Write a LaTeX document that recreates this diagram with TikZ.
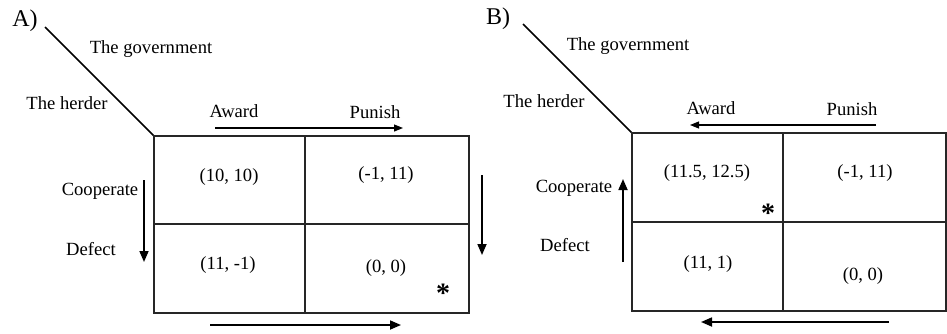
\documentclass[tikz,border=0pt]{standalone}
\usepackage{fontspec}
\setmainfont{Liberation Serif}
\usetikzlibrary{arrows.meta}
\begin{document}
\begin{tikzpicture}[x=1pt,y=-1pt,
  lbl/.style={inner sep=0pt,anchor=center,font=\fontsize{18.6}{20}\selectfont},
  panel/.style={inner sep=0pt,anchor=center,font=\fontsize{24}{26}\selectfont},
  grid/.style={line width=1.8pt,black!85},
  diag/.style={line width=1.5pt},
  thinarrow/.style={line width=1.1pt,-{Triangle[length=9pt,width=7pt]}},
  thickarrow/.style={line width=1.7pt,-{Triangle[length=11pt,width=9pt]}},
  star/.style={inner sep=0pt,font=\fontsize{28}{30}\selectfont\bfseries}]
\useasboundingbox (0,0) rectangle (947,333);
\fill[white] (0,0) rectangle (947,333);

% ---------- Panel A ----------
\node[panel] (pA) at (25,21) {A)};
\coordinate (dA0) at (45,27);
\coordinate (dA1) at (154,136);
\draw[diag] (dA0) -- (dA1);
\node[lbl] (govA) at (151,49) {The government};
\node[lbl] (herdA) at (67,103) {The herder};
\node[lbl] (awA) at (234,111) {Award};
\node[lbl] (puA) at (375,112) {Punish};
\draw[grid] (154,136) rectangle (469,313);
\draw[grid] (305,136) -- (305,313);
\draw[grid] (154,224) -- (469,224);
\node[lbl] (a11) at (229,177) {(10, 10)};
\node[lbl] (a12) at (386,175) {(-1, 11)};
\node[lbl] (a21) at (228,265) {(11, -1)};
\node[lbl] (a22) at (386,268) {(0, 0)};
\node[star] (sA) at (443,293) {*};
\node[lbl] (coA) at (100,191) {Cooperate};
\node[lbl] (deA) at (91,249) {Defect};
\coordinate (tA0) at (215,128);
\coordinate (tA1) at (403,128);
\draw[thinarrow] (tA0) -- (tA1);
\coordinate (lA0) at (144,180);
\coordinate (lA1) at (144,262);
\draw[thickarrow] (lA0) -- (lA1);
\coordinate (rA0) at (482,175);
\coordinate (rA1) at (482,255);
\draw[thickarrow] (rA0) -- (rA1);
\coordinate (bA0) at (210,325);
\coordinate (bA1) at (401,325);
\draw[thickarrow] (bA0) -- (bA1);

% ---------- Panel B ----------
\node[panel] (pB) at (498,19) {B)};
\coordinate (dB0) at (523,24);
\coordinate (dB1) at (632,133);
\draw[diag] (dB0) -- (dB1);
\node[lbl] (govB) at (628,46) {The government};
\node[lbl] (herdB) at (544,101) {The herder};
\node[lbl] (awB) at (711,108) {Award};
\node[lbl] (puB) at (852,109) {Punish};
\draw[grid] (632,133) rectangle (946,311);
\draw[grid] (783,133) -- (783,311);
\draw[grid] (632,222) -- (946,222);
\node[lbl] (b11) at (707,173) {(11.5, 12.5)};
\node[lbl] (b12) at (865,173) {(-1, 11)};
\node[lbl] (b21) at (708,264) {(11, 1)};
\node[lbl] (b22) at (863,276) {(0, 0)};
\node[star] (sB) at (768,213) {*};
\node[lbl] (coB) at (574,188) {Cooperate};
\node[lbl] (deB) at (565,245) {Defect};
\coordinate (tB0) at (876,125);
\coordinate (tB1) at (690,125);
\draw[thinarrow] (tB0) -- (tB1);
\coordinate (lB0) at (623,262);
\coordinate (lB1) at (623,179);
\draw[thickarrow] (lB0) -- (lB1);
\coordinate (bB0) at (889,322);
\coordinate (bB1) at (701,322);
\draw[thickarrow] (bB0) -- (bB1);
\end{tikzpicture}
\end{document}
